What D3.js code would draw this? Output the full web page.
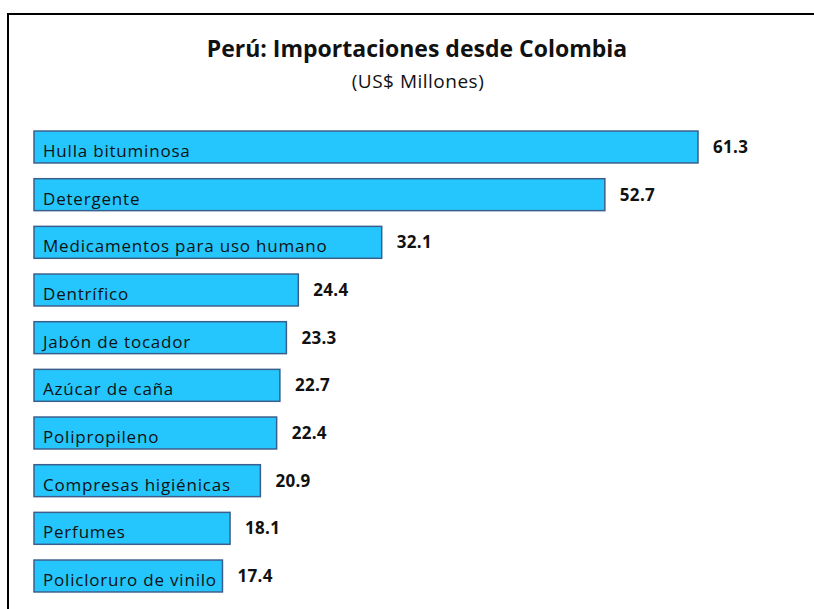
<!DOCTYPE html>
<html><head><meta charset="utf-8">
<script src="https://cdn.jsdelivr.net/npm/d3@7/dist/d3.min.js"></script>
<style>body{margin:0;background:#fff;} svg{display:block;}</style>
</head><body>
<svg id="c" width="814" height="609"></svg>
<script>
const categories = ["Hulla bituminosa","Detergente","Medicamentos para uso humano","Dentrífico","Jabón de tocador","Azúcar de caña","Polipropileno","Compresas higiénicas","Perfumes","Policloruro de vinilo"];
const values = [61.3,52.7,32.1,24.4,23.3,22.7,22.4,20.9,18.1,17.4];
const title = "Perú: Importaciones desde Colombia";
const subtitle = "(US$ Millones)";

const svg = d3.select("#c");
svg.append("rect").attr("x",8).attr("y",14).attr("width",830).attr("height",620)
  .attr("fill","none").attr("stroke","#000").attr("stroke-width",2);

svg.append("text").attr("x",417).attr("y",57).attr("text-anchor","middle")
  .attr("font-family","'Open Sans', sans-serif").attr("font-weight","bold").attr("font-size",23)
  .attr("fill","#111").text(title);
svg.append("text").attr("x",418).attr("y",88).attr("text-anchor","middle")
  .attr("font-family","'Open Sans', sans-serif").attr("font-size",19).attr("letter-spacing",0.5)
  .attr("fill","#111").text(subtitle);

const x = d3.scaleLinear().domain([0, d3.max(values)]).range([34, 698]);
const y = d3.scaleBand().domain(categories).range([115.3, 607.7]).paddingInner(0.33).paddingOuter(0.33);

const g = svg.append("g");
const rows = g.selectAll("g.row").data(categories.map((c,i)=>({c, v: values[i]}))).join("g").attr("class","row");
rows.append("rect").attr("x", x(0)).attr("y", d=>y(d.c)).attr("width", d=>x(d.v)-x(0)).attr("height", y.bandwidth())
  .attr("fill","#24c6fd").attr("stroke","#3b5f8c").attr("stroke-width",1.5);
rows.append("text").attr("x", x(0)+9).attr("y", d=>y(d.c)+y.bandwidth()-6)
  .attr("font-family","'Open Sans', sans-serif").attr("font-size",17).attr("letter-spacing",0.8).attr("fill","#111").text(d=>d.c);
rows.append("text").attr("x", d=>x(d.v)+15).attr("y", d=>y(d.c)+y.bandwidth()/2+6)
  .attr("font-family","'Open Sans', sans-serif").attr("font-weight","bold").attr("font-size",17).attr("letter-spacing",0.3).attr("fill","#111")
  .text(d=>d3.format(".1f")(d.v));
</script>
</body></html>
